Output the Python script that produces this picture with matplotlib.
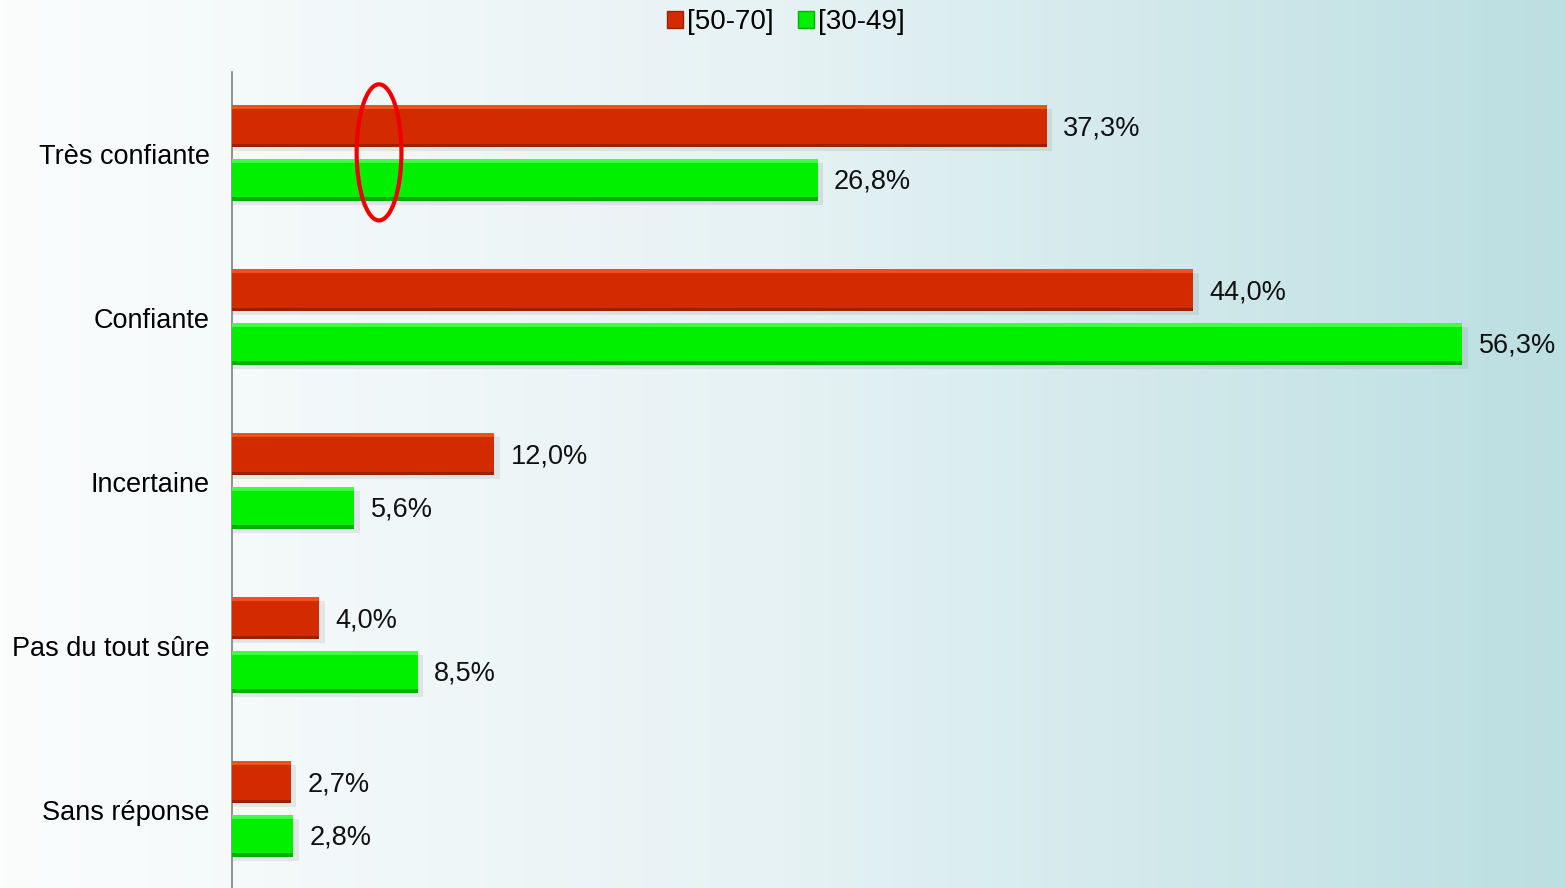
import matplotlib
matplotlib.use("Agg")
import matplotlib.pyplot as plt
import numpy as np
from matplotlib.patches import Ellipse
from matplotlib.colors import LinearSegmentedColormap

plt.rcParams['font.family'] = ['Liberation Sans', 'DejaVu Sans']

#########
# Data  #
#########

categories = ["Très confiante", "Confiante", "Incertaine", "Pas du tout sûre", "Sans réponse"]
series_names = ["[50-70]", "[30-49]"]
values_50_70 = [37.3, 44.0, 12.0, 4.0, 2.7]
values_30_49 = [26.8, 56.3, 5.6, 8.5, 2.8]

colors = {"[50-70]": "#d42a00", "[30-49]": "#00f000"}
light = {"[50-70]": "#f0501a", "[30-49]": "#40ff40"}
dark = {"[50-70]": "#9a2200", "[30-49]": "#00b000"}


def fmt(v):
    return ("%.1f%%" % v).replace(".", ",")


###########
# Program #
###########

fig = plt.figure(figsize=(15.66, 8.88), dpi=100)

# background gradient
bg = fig.add_axes([0, 0, 1, 1], zorder=0)
grad = np.linspace(0, 1, 256).reshape(1, -1)
cmap = LinearSegmentedColormap.from_list("bg", ["#fbfdfd", "#e6f2f4", "#bcdfe2"])
bg.imshow(grad, aspect="auto", cmap=cmap, extent=[0, 1, 0, 1])
bg.axis("off")

ax = fig.add_axes([232 / 1566, -4 / 888, 1 - 232 / 1566, 820 / 888], zorder=1)
ax.patch.set_alpha(0)
ax.set_xlim(0, (1566 - 232) / 21.85)
ax.set_ylim(len(categories) - 0.5, -0.5)

y = np.arange(len(categories))
h = 0.256
offsets = {"[50-70]": -0.168, "[30-49]": 0.160}
data = {"[50-70]": values_50_70, "[30-49]": values_30_49}

for name in series_names:
    vals = np.array(data[name])
    yy = y + offsets[name]
    # soft shadow
    ax.barh(yy + 0.02, vals + 0.25, height=h, color="#000000", alpha=0.07, zorder=2)
    # main bar
    ax.barh(yy, vals, height=h, color=colors[name], zorder=3)
    # top highlight and bottom shade
    ax.barh(yy - h / 2 + 0.012, vals, height=0.024, color=light[name], zorder=4)
    ax.barh(yy + h / 2 - 0.012, vals, height=0.024, color=dark[name], zorder=4)
    for v, yv in zip(vals, yy):
        ax.text(v + 0.75, yv + 0.01, fmt(v), va="center", ha="left", fontsize=19.5, color="#111111")

ax.set_yticks(y)
ax.set_yticklabels(categories, fontsize=19.5)
ax.tick_params(axis="y", length=0, pad=16)
ax.set_xticks([])
for s in ["top", "right", "bottom"]:
    ax.spines[s].set_visible(False)
ax.spines["left"].set_color("#808080")
ax.spines["left"].set_linewidth(1.2)

# red highlight ellipse
ax.add_patch(Ellipse((6.73, -0.01), 2.05, 0.83, fill=False, edgecolor="#ee0000", lw=3, zorder=6))

# legend
handles = [plt.Rectangle((0, 0), 1, 1, facecolor=colors[n], edgecolor=dark[n]) for n in series_names]
fig.legend(handles, series_names, loc="center", bbox_to_anchor=(786 / 1566, 1 - 22 / 888),
           ncol=2, frameon=False, fontsize=20, handlelength=0.55, handleheight=0.55,
           handletextpad=0.15, columnspacing=0.9)

plt.savefig("out.png", dpi=100)
